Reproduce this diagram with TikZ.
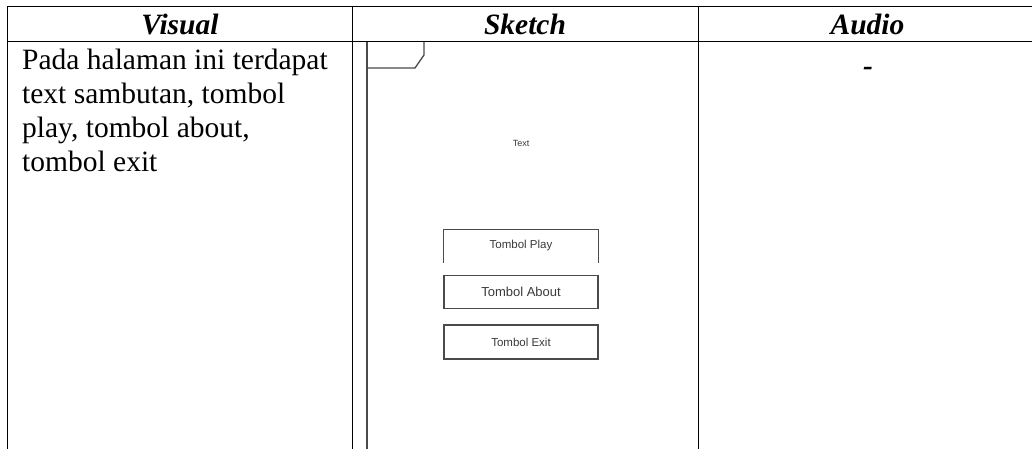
\documentclass[tikz,border=0pt]{standalone}
\usepackage{fontspec}
\setmainfont{Liberation Serif}
\newfontfamily\skfont{Liberation Sans}
\definecolor{skgray}{HTML}{4A4A4A}
\definecolor{sktext}{HTML}{3A3A3A}
\begin{document}
\begin{tikzpicture}[x=1pt,y=-1pt,
  rule/.style={line width=1pt, black},
  skline/.style={line width=1.3pt, skgray},
  head/.style={font=\fontsize{29.5}{34}\selectfont\bfseries\itshape, inner sep=0, anchor=base},
  body/.style={font=\fontsize{29.5}{34}\selectfont, inner sep=0, align=left},
  btn/.style={draw=skgray, line width=1.3pt, minimum width=154pt, inner sep=0, text=sktext, font=\skfont\fontsize{11.5}{13}\selectfont}
]
\useasboundingbox[fill=white] (0,0) rectangle (1032,449);
% table rules
\coordinate (tl) at (7,7);
\coordinate (tr) at (1032,7);
\coordinate (hl) at (7,42);
\coordinate (hr) at (1032,42);
\coordinate (bl) at (7,449);
\coordinate (d1t) at (352.7,7);
\coordinate (d1b) at (352.7,449);
\coordinate (d2t) at (698,7);
\coordinate (d2b) at (698,449);
\draw[rule] (tl) -- (tr);
\draw[rule] (hl) -- (hr);
\draw[rule] (tl) -- (bl);
\draw[rule] (d1t) -- (d1b);
\draw[rule] (d2t) -- (d2b);
% headers
\node[head] (hvis) at (180,34.3) {Visual};
\node[head] (hsk) at (525,34.3) {Sketch};
\node[head] (hau) at (867.5,34.3) {Audio};
% body text
\node[body, anchor=north west] (desc) at (22,49) {Pada halaman ini terdapat\\text sambutan, tombol\\play, tombol about,\\tombol exit};
\node[font=\fontsize{29.5}{34}\selectfont\bfseries\itshape, inner sep=0, anchor=base] (dash) at (868,76) {-};
% sketch frame
\coordinate (fa) at (367,42);
\coordinate (fb) at (367,449);
\coordinate (t1) at (367,68);
\coordinate (t2) at (415,68);
\coordinate (t3) at (424,55);
\coordinate (t4) at (424,42);
\draw[skline] (fa) -- (fb);
\draw[skline] (t1) -- (t2) -- (t3) -- (t4);
\node[text=sktext, font=\skfont\fontsize{9}{10}\selectfont, inner sep=0] (txt) at (521,143) {Text};
% buttons
\node[btn, draw=none, minimum height=32pt] (play) at (521,246) {Tombol Play};
\draw[skline] (play.south west) -- (play.north west) -- (play.north east) -- (play.south east);
\node[btn, minimum height=33pt, font=\skfont\fontsize{13}{14}\selectfont] (about) at (521,291.8) {Tombol About};
\node[btn, minimum height=34pt] (exit) at (521,342) {Tombol Exit};
\end{tikzpicture}
\end{document}
